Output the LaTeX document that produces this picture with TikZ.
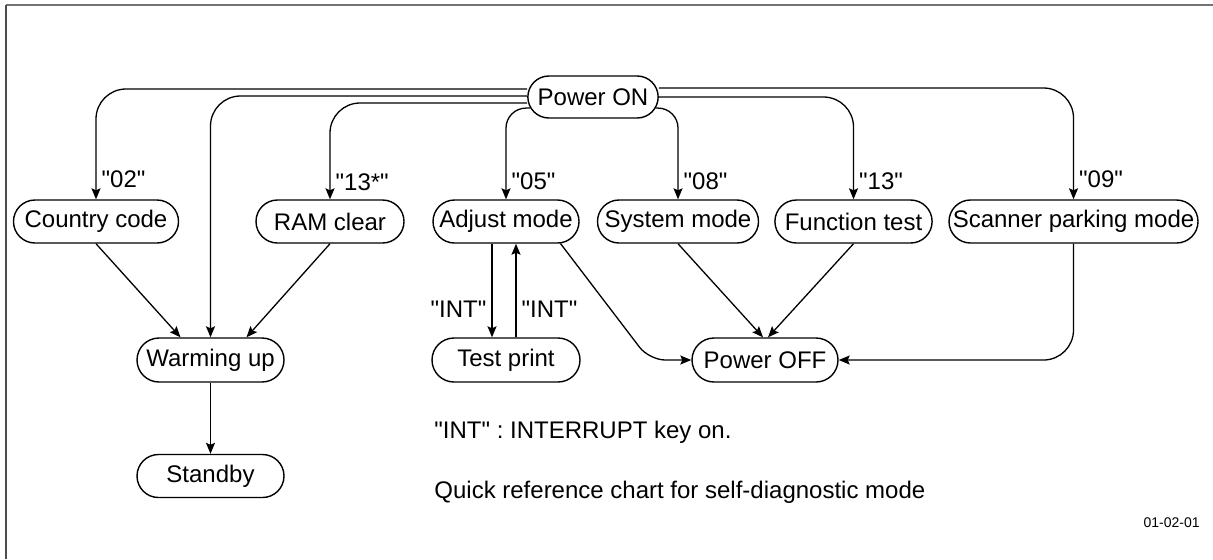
\documentclass[tikz,border=0pt]{standalone}
\usepackage{fontspec}
\newfontfamily\helv{Liberation Sans}
\usepackage{tikz}
\usetikzlibrary{positioning, calc, shapes.misc, arrows.meta}
\tikzstyle{Arrow} = [
	line width=0.65pt,
	-{Stealth[length=5.5pt, width=4.5pt, inset=1pt]}
	]
\tikzstyle{Mode} = [rounded rectangle, draw, line width=0.7pt,
	minimum height=21.5pt, inner xsep=4pt,
	font=\helv\fontsize{12}{14}\selectfont]
\tikzstyle{Key} = [inner sep=2.5pt, font=\helv\fontsize{12}{14}\selectfont\frenchspacing]

\begin{document}
\begin{tikzpicture}[x=0.5pt, y=-0.5pt]
	\useasboundingbox (0,0) rectangle (1213,559);
	%frame:
		\draw[black!55, line width=1pt] (6,5) -- (1213,5);
		\draw[black!70, line width=1pt] (6,5) -- (6,559);
	%nodes:
		\node [Mode, minimum width=65pt, minimum height=21pt] (on) at (593,97) {Power ON};
		\node [Mode, minimum width=81pt] (cc) at (96,221.5) {Country code};
		\node [Mode, minimum width=82pt] (ram) at (330,221.5) {RAM clear};
		\node [Mode, minimum width=81pt] (adj) at (506,221.5) {Adjust mode};
		\node [Mode, minimum width=77pt, inner xsep=2pt] (sys) at (678,221.5) {System mode};
		\node [Mode, minimum width=78.5pt] (fun) at (853.5,221.5) {Function test};
		\node [Mode, minimum width=128.5pt, inner xsep=2pt] (scan) at (1073.5,221.5) {Scanner parking mode};
		\node [Mode, minimum width=81.5pt, minimum height=22pt] (warm) at (210.5,360) {Warming up};
		\node [Mode, minimum width=82pt, minimum height=22pt] (tp) at (506,360) {Test print};
		\node [Mode, minimum width=81pt, minimum height=22pt] (off) at (765,360) {Power OFF};
		\node [Mode, minimum width=81.5pt] (stb) at (210.5,476) {Standby};
		\node [Key, anchor=west, inner sep=0pt] (note) at (434,432) {"INT" : INTERRUPT key on.};
		\node [Key, anchor=west, inner sep=0pt] (title) at (434,492) {Quick reference chart for self-diagnostic mode};
		\node [anchor=east, inner sep=0pt, font=\helv\fontsize{7}{8}\selectfont] (fig) at (1200,523) {01-02-01};
	%edges:
		\draw[Arrow, rounded corners=15pt] ([yshift=4pt]on.west) -| (cc.north) node[Key, pos=0.91, right] {"02"};
		\draw[Arrow, rounded corners=15pt] ([yshift=0.5pt]on.west) -| (warm.north);
		\draw[Arrow, rounded corners=15pt] ([yshift=-3pt]on.west) -| (ram.north) node[Key, pos=0.91, right] {"13*"};
		\draw[Arrow, rounded corners=10pt] (on.190) -| (adj.north) node[Key, pos=0.9, right] {"05"};
		\draw[Arrow, rounded corners=10pt] (on.350) -| (sys.north) node[Key, pos=0.9, right] {"08"};
		\draw[Arrow, rounded corners=15pt] (on.east) -| (fun.north) node[Key, pos=0.91, right] {"13"};
		\draw[Arrow, rounded corners=15pt] ([yshift=4.5pt]on.east) -| (scan.north) node[Key, pos=0.91, right] {"09"};
		\draw[Arrow] (cc.south) -- ([xshift=-15pt]warm.north);
		\draw[Arrow] (ram.south) -- ([xshift=18pt]warm.north);
		\draw[Arrow] (warm.south) -- (stb.north);
		\draw[Arrow] ([xshift=-7pt]adj.south) -- ([xshift=-7pt]tp.north) node[Key, pos=0.7, left] {"INT"};
		\draw[Arrow] ([xshift=5pt]tp.north) -- ([xshift=5pt]adj.south) node[Key, pos=0.3, right] {"INT"};
		\draw[Arrow, rounded corners=8pt] (adj.338) -- ([xshift=-21pt]off.west) -- (off.west);
		\draw[Arrow] (sys.south) -- ([xshift=-1pt]off.north);
		\draw[Arrow] (fun.south) -- ([xshift=1.5pt]off.north);
		\draw[Arrow, rounded corners=15pt] (scan.south) |- (off.east);
\end{tikzpicture}
\end{document}
